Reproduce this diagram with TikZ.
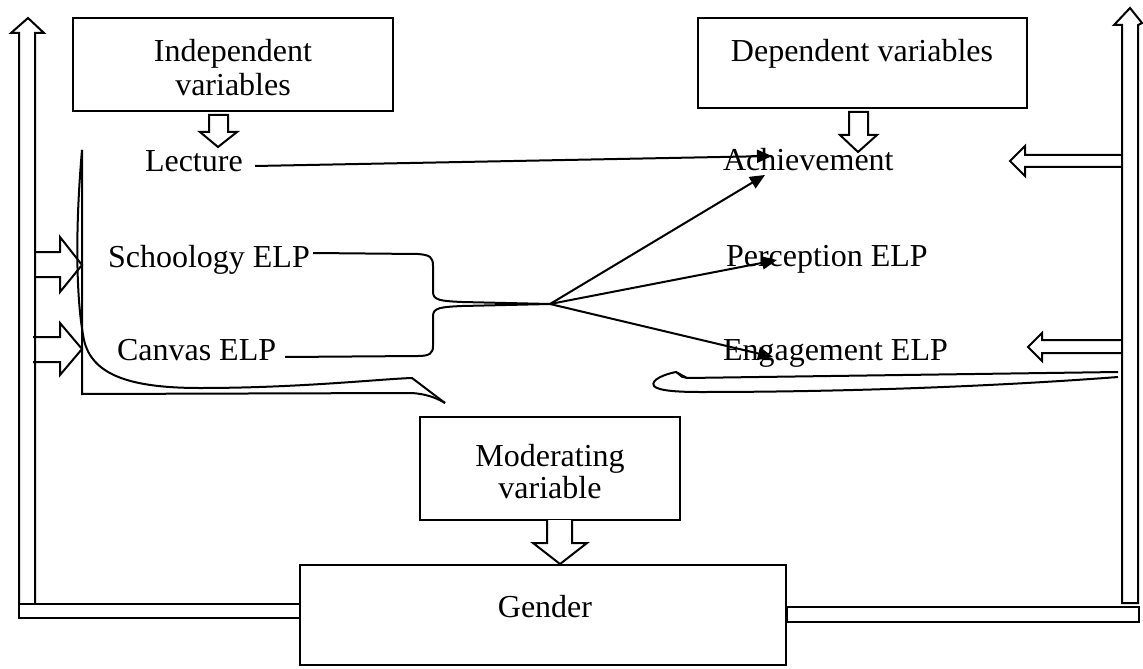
\documentclass[tikz,border=0pt]{standalone}
\usepackage{fontspec}
\setmainfont{Liberation Serif}
\usetikzlibrary{arrows.meta}
\begin{document}
\begin{tikzpicture}[x=0.5pt,y=-0.5pt,
  lbl/.style={inner sep=0pt,outer sep=0pt,font=\fontsize{16}{17.5}\selectfont},
  box/.style={draw,line width=1pt,inner sep=0pt},
  hollow/.style={draw,line width=1pt,line join=miter,fill=white},
  outline/.style={draw,line width=1pt,line join=miter},
  conn/.style={line width=1pt,-{Triangle[length=7.5pt,width=6.5pt]}},
  brk/.style={line width=1pt}]
\useasboundingbox (0,0) rectangle (1143,668);

% boxes
\node[box,minimum width=160pt,minimum height=46.5pt] (indep) at (233,64.5) {};
\node[box,minimum width=164.5pt,minimum height=45pt] (dep) at (862.5,63) {};
\node[box,minimum width=130pt,minimum height=51.5pt] (mod) at (550,468.5) {};
\node[box,minimum width=243pt,minimum height=50pt] (gender) at (543,615) {};

% box texts
\node[lbl,anchor=base] (indepA) at (233,62) {Independent};
\node[lbl,anchor=base] (indepB) at (233,96) {variables};
\node[lbl,anchor=base] (depA) at (862,62) {Dependent variables};
\node[lbl,anchor=base] (modA) at (550,466) {Moderating};
\node[lbl,anchor=base] (modB) at (550,498) {variable};
\node[lbl,anchor=base] (genA) at (545,617) {Gender};

% item texts
\node[lbl,anchor=base west] (lecture) at (145,171) {Lecture};
\node[lbl,anchor=base west] (school) at (108,267) {Schoology ELP};
\node[lbl,anchor=base west] (canvas) at (117,360) {Canvas ELP};
\node[lbl,anchor=base west] (ach) at (723,170) {Achievement};
\node[lbl,anchor=base west] (perc) at (726,266) {Perception ELP};
\node[lbl,anchor=base west] (eng) at (723,360) {Engagement ELP};

% connector points
\coordinate (lecS) at (255,166);
\coordinate (achT1) at (772,156);
\coordinate (join) at (550,304);
\coordinate (achT2) at (765,175);
\coordinate (percT) at (777,260);
\coordinate (engT) at (773,357);
\coordinate (schS) at (313,253);
\coordinate (canS) at (285,357);

% connectors
\draw[conn] (lecS) -- (achT1);
\draw[brk] (schS) -- (418,254) .. controls (430,255) and (433,257) .. (433,266) -- (433,292) .. controls (433,300) and (440,301) .. (462,302) -- (join);
\draw[brk] (canS) -- (418,356) .. controls (430,356) and (433,353) .. (433,346) -- (433,316) .. controls (433,308) and (440,307) .. (462,306) -- (join);
\draw[conn] (join) -- (achT2);
\draw[conn] (join) -- (percT);
\draw[conn] (join) -- (engT);

% big side arrows
\draw[hollow] (19,604) -- (19,33) -- (11,33) -- (28,18) -- (44,33) -- (35,33) -- (35,604) -- cycle;
\draw[hollow] (19,604) rectangle (300,618);
\draw[hollow] (1122,603) -- (1122,25) -- (1114,25) -- (1130,8) -- (1142,23) -- (1138,25) -- (1138,603) -- cycle;
\draw[hollow] (787,607) rectangle (1139,622);

% small arrows into left bracket
\draw[outline] (35,252) -- (60,252) -- (60,237) -- (82,265) -- (60,292) -- (60,277) -- (35,277);
\draw[outline] (33,337) -- (60,337) -- (60,323) -- (82,349) -- (60,375) -- (60,362) -- (33,362);

% small arrows from right shaft
\draw[outline] (1122,155) -- (1025,155) -- (1025,146) -- (1010,161) -- (1025,176) -- (1025,167) -- (1122,167);
\draw[outline] (1122,340) -- (1042,340) -- (1042,333) -- (1028,347) -- (1042,361) -- (1042,353) -- (1122,353);

% left bracket
\draw[brk] (82,150) -- (82,394) -- (412,393) .. controls (425,394) and (435,397) .. (445,403);
\draw[brk] (82,150) .. controls (75,230) and (76,300) .. (84,340) .. controls (92,375) and (130,388) .. (200,388) .. controls (300,388) and (380,379) .. (412,378) -- (445,403);

% right leaf
\draw[brk] (1118,372) -- (687,378) -- (676,372) .. controls (665,374) and (650,380) .. (654,386) .. controls (658,391) and (680,392) .. (700,392) .. controls (850,392) and (1000,386) .. (1118,377);
\draw[line width=0.8pt] (676,372) -- (682,377) -- (687,378);

% down arrows
\draw[hollow] (209,115) -- (209,132) -- (200,132) -- (218,147) -- (237,132) -- (228,132) -- (228,115) -- cycle;
\draw[hollow] (849,112) -- (849,135) -- (840,135) -- (858,152) -- (877,135) -- (868,135) -- (868,112) -- cycle;
\draw[hollow] (547,520) -- (547,543) -- (533,543) -- (560,564) -- (587,543) -- (572,543) -- (572,520);
\end{tikzpicture}
\end{document}
